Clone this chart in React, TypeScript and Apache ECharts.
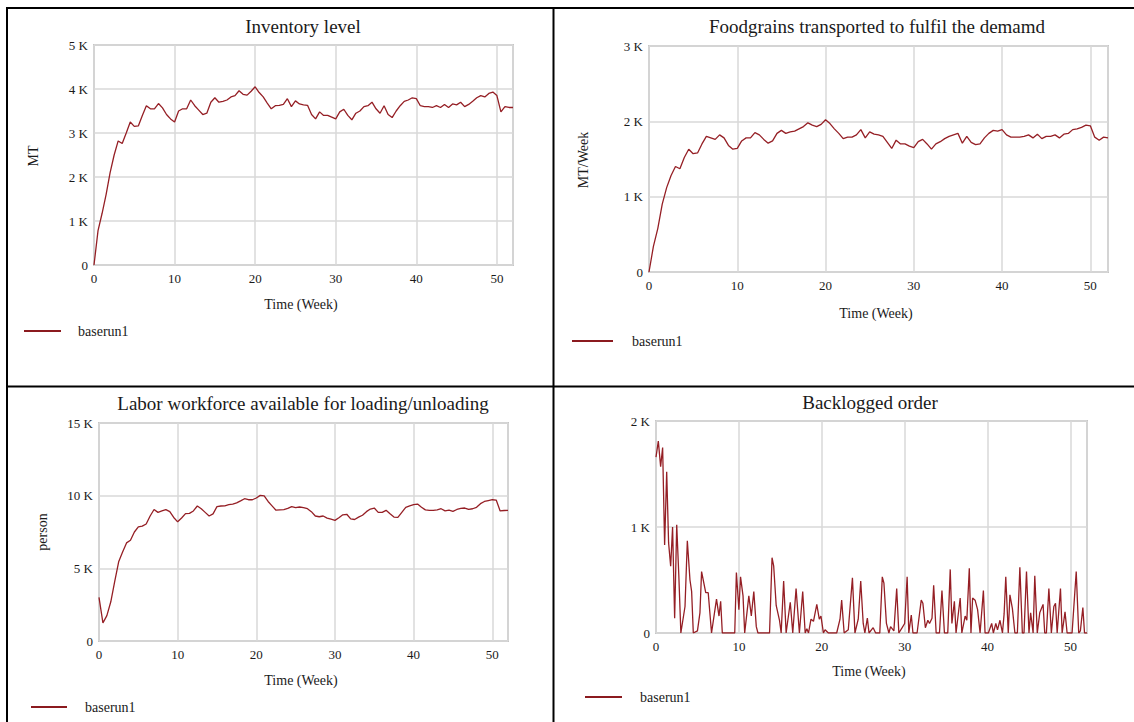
import React, { useEffect, useRef } from "react";
import * as echarts from "echarts";

// ---- data ----
const weeks: number[] = Array.from({ length: 105 }, (_, i) => i * 0.5);

const inventory = [
  0, 780, 1170, 1600, 2100, 2500, 2820, 2760, 3000, 3250,
  3150, 3160, 3400, 3620, 3550, 3550, 3670, 3570, 3420, 3320,
  3250, 3500, 3550, 3550, 3750, 3620, 3520, 3420, 3450, 3700,
  3800, 3700, 3720, 3750, 3820, 3850, 3960, 3880, 3860, 3950,
  4050, 3920, 3820, 3680, 3550, 3620, 3630, 3650, 3780, 3600,
  3730, 3660, 3640, 3630, 3420, 3320, 3480, 3400, 3400, 3360,
  3320, 3480, 3540, 3400, 3300, 3450, 3500, 3600, 3620, 3700,
  3550, 3450, 3620, 3420, 3350, 3500, 3620, 3720, 3750, 3800,
  3780, 3620, 3600, 3600, 3580, 3620, 3580, 3650, 3580, 3660,
  3640, 3700, 3600, 3650, 3720, 3800, 3850, 3820, 3900, 3930,
  3850, 3480, 3600, 3580, 3580,
];

const foodgrains = [
  0, 340, 580, 900, 1120, 1280, 1400, 1370, 1520, 1630,
  1570, 1580, 1700, 1800, 1780, 1760, 1820, 1780, 1680, 1630,
  1640, 1740, 1780, 1780, 1850, 1820, 1760, 1710, 1740, 1840,
  1880, 1840, 1860, 1870, 1900, 1930, 1980, 1950, 1930, 1960,
  2020, 1970, 1900, 1840, 1770, 1790, 1790, 1820, 1890, 1780,
  1860, 1830, 1820, 1800, 1720, 1640, 1750, 1700, 1700, 1670,
  1650, 1730, 1760, 1700, 1630, 1700, 1730, 1770, 1800, 1820,
  1840, 1710, 1800, 1720, 1690, 1700, 1780, 1840, 1880, 1870,
  1890, 1820, 1790, 1790, 1790, 1800, 1820, 1780, 1830, 1770,
  1800, 1800, 1820, 1780, 1830, 1840, 1890, 1900, 1920, 1950,
  1940, 1790, 1750, 1790, 1780,
];

const labor = [
  3000, 1250, 1750, 2700, 4100, 5450, 6120, 6750, 6930, 7500,
  7860, 7900, 8050, 8600, 9050, 8850, 8950, 9040, 8900, 8500,
  8200, 8460, 8760, 8780, 8950, 9290, 9100, 8850, 8600, 8750,
  9250, 9290, 9300, 9380, 9420, 9500, 9640, 9790, 9720, 9720,
  9840, 10020, 9980, 9600, 9300, 9000, 9020, 9040, 9120, 9250,
  9180, 9220, 9180, 9100, 8900, 8600, 8550, 8600, 8450, 8380,
  8300, 8480, 8680, 8720, 8400, 8360, 8520, 8650, 8900, 9080,
  9150, 8850, 8850, 8990, 8750, 8530, 8500, 8850, 9200, 9300,
  9380, 9420, 9200, 9020, 8990, 8990, 9020, 9100, 8950, 9000,
  8920, 9050, 9120, 9150, 9050, 9100, 9200, 9450, 9600, 9660,
  9720, 9700, 8950, 8980, 8990,
];

const backlogWeeks = [
  0, 0.28, 0.56, 0.8, 1.04, 1.29, 1.52, 1.77, 2.0, 2.25, 2.5, 2.75, 3.0, 3.5, 3.78, 4.1, 4.3, 4.5,
  5.0, 5.3, 5.5, 6.0, 6.3, 6.7, 7.3, 7.6, 7.8, 8.0, 9.5, 9.7, 10.0, 10.2, 10.5, 10.7, 11.2, 11.5,
  11.8, 12.1, 12.3, 13.7, 14.0, 14.2, 14.5, 14.9, 15.1, 15.4, 15.7, 16.2, 16.5, 16.9, 17.3, 17.7,
  18.0, 18.2, 18.4, 18.7, 19.0, 19.4, 19.7, 19.9, 20.2, 20.4, 20.8, 21.8, 22.2, 22.4, 22.7, 23.2,
  23.7, 24.0, 24.4, 24.7, 25.0, 25.2, 25.5, 25.7, 26.2, 26.5, 27.0, 27.3, 27.5, 27.8, 28.1, 28.3,
  28.7, 29.04, 29.3, 29.7, 30.0, 30.3, 30.5, 30.8, 31.0, 31.5, 32.0, 32.2, 32.5, 32.8, 33.0, 33.3,
  33.5, 33.8, 34.2, 34.5, 34.8, 35.2, 35.5, 35.7, 36.0, 36.2, 36.7, 36.9, 37.3, 37.5, 37.8, 38.0,
  38.2, 38.5, 38.8, 39.1, 39.5, 39.7, 40.1, 40.5, 40.7, 41.0, 41.2, 41.5, 41.8, 42.0, 42.2, 42.5,
  42.7, 43.0, 43.3, 43.6, 43.9, 44.2, 44.4, 44.7, 45.0, 45.2, 45.5, 45.7, 46.0, 46.3, 46.7, 46.9,
  47.1, 47.4, 47.7, 48.0, 48.2, 48.4, 48.8, 49.0, 49.35, 49.6, 50.2, 50.7, 51.0, 51.2, 51.5, 51.7, 52,
];

const backlog = [
  1660, 1810, 1570, 1750, 830, 1520, 850, 630, 1000, 140, 1020, 550, 0, 250, 870, 500, 390, 0,
  20, 190, 580, 380, 380, 0, 320, 160, 300, 0, 0, 570, 220, 530, 350, 0, 350, 160,
  390, 60, 0, 0, 710, 630, 260, 120, 0, 490, 0, 290, 0, 420, 0, 390,
  0, 40, 0, 130, 110, 270, 130, 160, 0, 30, 0, 0, 130, 310, 0, 30,
  520, 0, 130, 490, 90, 0, 140, 0, 50, 0, 0, 530, 470, 90, 0, 60,
  20, 420, 0, 50, 90, 530, 0, 170, 0, 0, 310, 280, 50, 120, 90, 140,
  450, 0, 0, 400, 0, 0, 600, 90, 300, 0, 330, 0, 160, 120, 610, 0,
  330, 310, 220, 0, 400, 0, 0, 90, 0, 90, 30, 120, 0, 180, 530, 0,
  360, 230, 0, 0, 620, 0, 0, 580, 0, 190, 0, 540, 0, 190, 270, 0,
  0, 420, 0, 250, 280, 0, 420, 0, 200, 0, 0, 580, 0, 20, 240, 0, 0,
];

const titles = [
  "Inventory level",
  "Foodgrains transported to fulfil the demamd",
  "Labor workforce available for loading/unloading",
  "Backlogged order",
];
const yNames = ["MT", "MT/Week", "person", ""];
const xName = "Time (Week)";
const seriesName = "baserun1";
const yMax = [5000, 3000, 15000, 2000];
const yStep = [1000, 1000, 5000, 1000];

// ---- layout ----
const grids = [
  { left: 94, top: 45, width: 419, height: 220 },
  { left: 649, top: 46, width: 459, height: 226 },
  { left: 99, top: 423, width: 409, height: 218 },
  { left: 656, top: 421, width: 431, height: 212 },
];
const titlePos = [
  [303, 26],
  [877, 26],
  [303, 403],
  [870, 402],
];
const yNamePos = [
  [33, 156],
  [583, 160],
  [42, 532],
  [0, 0],
];
const xNamePos = [
  [301, 304],
  [876, 313],
  [301, 680],
  [869, 671],
];
const legendPos = [
  [24, 61, 78, 331],
  [572, 613, 632, 341],
  [31, 67, 85, 707],
  [585, 622, 640, 697],
];

const FONT = "'Liberation Serif', 'Times New Roman', serif";
const LINE = "#951f25";
const TEXT = "#1a1a1a";

function pairs(xs: number[], ys: number[]) {
  return xs.map((x, i) => [x, ys[i]]);
}

export default function App() {
  const ref = useRef<HTMLDivElement>(null);

  useEffect(() => {
    if (!ref.current) return;
    const chart = echarts.init(ref.current, null, { renderer: "svg" });

    const seriesData = [
      pairs(weeks, inventory),
      pairs(weeks, foodgrains),
      pairs(weeks, labor),
      pairs(backlogWeeks, backlog),
    ];

    const graphic: any[] = [];
    // table borders
    const border = (x1: number, y1: number, x2: number, y2: number) => ({
      type: "line",
      shape: { x1, y1, x2, y2 },
      style: { stroke: "#000", lineWidth: 2 },
      silent: true,
    });
    graphic.push(border(6, 8, 1134, 8));
    graphic.push(border(7, 7, 7, 722));
    graphic.push(border(553.5, 8, 553.5, 722));
    graphic.push(border(7, 386.5, 1134, 386.5));

    for (let i = 0; i < 4; i++) {
      graphic.push({
        type: "text",
        x: titlePos[i][0],
        y: titlePos[i][1],
        style: {
          text: titles[i],
          align: "center",
          verticalAlign: "middle",
          font: `19px ${FONT}`,
          fill: TEXT,
        },
      });
      if (yNames[i]) {
        graphic.push({
          type: "text",
          x: yNamePos[i][0],
          y: yNamePos[i][1],
          rotation: Math.PI / 2,
          style: {
            text: yNames[i],
            align: "center",
            verticalAlign: "middle",
            font: `14px ${FONT}`,
            fill: TEXT,
          },
        });
      }
      graphic.push({
        type: "text",
        x: xNamePos[i][0],
        y: xNamePos[i][1],
        style: {
          text: xName,
          align: "center",
          verticalAlign: "middle",
          font: `14px ${FONT}`,
          fill: TEXT,
        },
      });
      const lp = legendPos[i];
      graphic.push({
        type: "line",
        shape: { x1: lp[0], y1: lp[3], x2: lp[1], y2: lp[3] },
        style: { stroke: "#8b1a1f", lineWidth: 2 },
      });
      graphic.push({
        type: "text",
        x: lp[2],
        y: lp[3],
        style: {
          text: seriesName,
          align: "left",
          verticalAlign: "middle",
          font: `14px ${FONT}`,
          fill: TEXT,
        },
      });
    }

    const option: any = {
      animation: false,
      backgroundColor: "#ffffff",
      grid: grids.map((g) => ({
        ...g,
        show: true,
        borderColor: "#c6c6c6",
        borderWidth: 2,
        backgroundColor: "transparent",
        containLabel: false,
      })),
      xAxis: grids.map((_, i) => ({
        type: "value",
        gridIndex: i,
        min: 0,
        max: 52,
        interval: 10,
        axisLine: { show: false },
        axisTick: { show: false },
        splitLine: { show: true, lineStyle: { color: "#d8d8d8", width: 1.5 } },
        axisLabel: {
          margin: 7,
          fontFamily: FONT,
          fontSize: 13,
          color: TEXT,
          formatter: (v: number) => (v % 10 === 0 ? String(v) : ""),
        },
      })),
      yAxis: grids.map((_, i) => ({
        type: "value",
        gridIndex: i,
        min: 0,
        max: yMax[i],
        interval: yStep[i],
        axisLine: { show: false },
        axisTick: { show: false },
        splitLine: { show: true, lineStyle: { color: "#d8d8d8", width: 1.5 } },
        axisLabel: {
          margin: 6,
          fontFamily: FONT,
          fontSize: 13,
          color: TEXT,
          formatter: (v: number) => (v === 0 ? "0" : `${v / 1000} K`),
        },
      })),
      series: seriesData.map((d, i) => ({
        type: "line",
        name: seriesName,
        xAxisIndex: i,
        yAxisIndex: i,
        data: d,
        symbol: "none",
        showSymbol: false,
        lineStyle: { color: LINE, width: 1.3 },
        itemStyle: { color: LINE },
      })),
      graphic,
    };

    chart.setOption(option);
    return () => chart.dispose();
  }, []);

  return (
    <div
      ref={ref}
      style={{ position: "absolute", left: 0, top: 0, width: 1134, height: 722 }}
    />
  );
}
